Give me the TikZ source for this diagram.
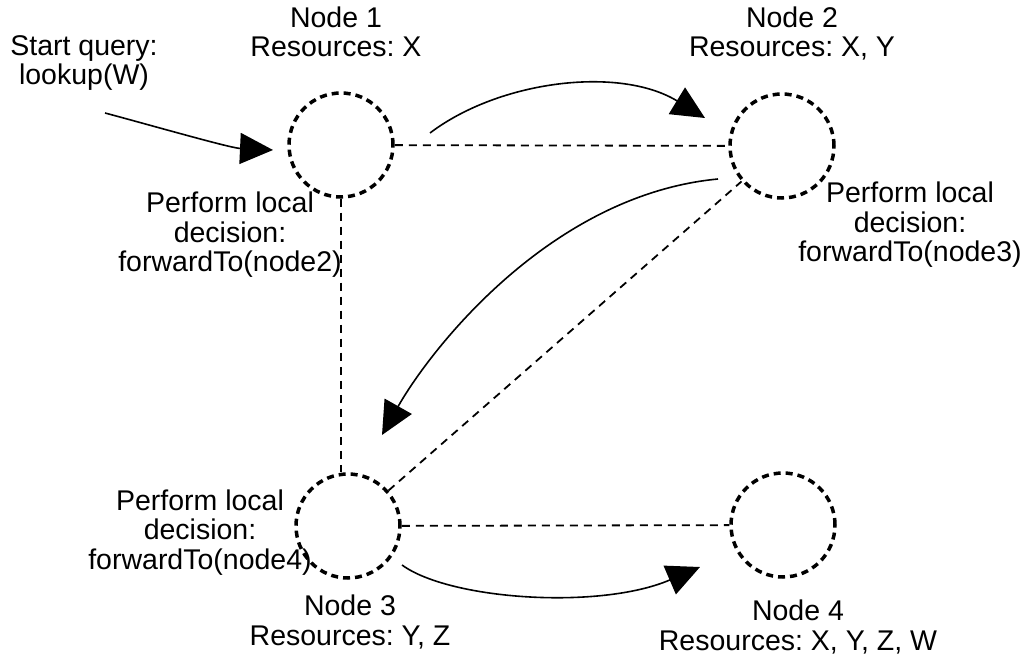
\documentclass[tikz,border=0pt]{standalone}
\usepackage{fontspec}
\setmainfont{Liberation Sans}
\usetikzlibrary{arrows.meta}
\frenchspacing

\begin{document}
\begin{tikzpicture}[x=1pt,y=-1pt,
  peer/.style={circle, draw, line width=3.5pt, dash pattern=on 7pt off 5pt,
    minimum size=104pt, inner sep=0pt},
  link/.style={line width=1.8pt, dash pattern=on 8pt off 6pt},
  hop/.style={line width=1.6pt, -{Triangle[length=33pt,width=31pt]}},
  lbl/.style={align=center, anchor=base, inner sep=0pt,
    font=\fontsize{28.5}{29.5}\selectfont}]
\useasboundingbox (0,0) rectangle (1031,660);

% peers
\node[peer] (n1) at (341,145) {};
\node[peer] (n2) at (782,146) {};
\node[peer] (n3) at (348,526) {};
\node[peer] (n4) at (783,525) {};

% overlay links
\draw[link] (n1) -- (n2);
\draw[link] (n1.south) -- (n1.south |- n3.north);
\draw[link] (n3) -- (n2);
\draw[link] (n3) -- (n4);

% labels (anchored at the baseline of their last line)
\node[lbl] (q)  at (84,85)   {Start query:\\lookup(W)};
\node[lbl] (l1) at (336,57)  {Node 1\\Resources: X};
\node[lbl] (l2) at (792,57)  {Node 2\\Resources: X, Y};
\node[lbl] (d1) at (230,272) {Perform local\\decision:\\forwardTo(node2)};
\node[lbl] (d2) at (910,262) {Perform local\\decision:\\forwardTo(node3)};
\node[lbl] (d3) at (200,569) {Perform local\\decision:\\forwardTo(node4)};
\node[lbl] (l3) at (350,645) {Node 3\\Resources: Y, Z};
\node[lbl] (l4) at (798,650) {Node 4\\Resources: X, Y, Z, W};

% query hops
\coordinate (s0) at (105,113);
\coordinate (t0) at (273,150);
\coordinate (s1) at (430,133);
\coordinate (t1) at (705,118);
\coordinate (s2) at (718,179);
\coordinate (t2) at (382,435);
\coordinate (s3) at (402,565);
\coordinate (t3) at (700,567);

\draw[hop] (s0) .. controls (150,125) and (230,148) .. (t0);
\draw[hop] (s1) .. controls (500,80) and (620,66) .. (t1);
\draw[hop] (s2) .. controls (550,195) and (430,350) .. (t2);
\draw[hop] (s3) .. controls (450,600) and (600,610) .. (t3);
\end{tikzpicture}
\end{document}
